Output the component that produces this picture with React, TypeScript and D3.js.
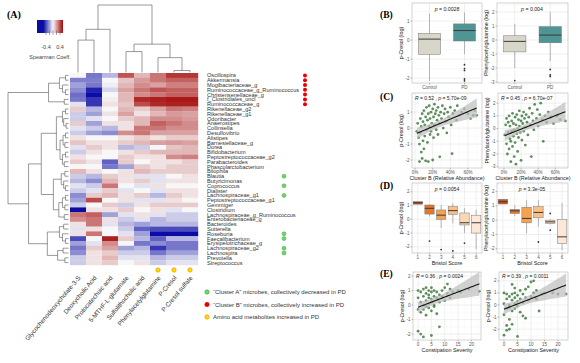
import React from 'react';
import * as d3 from 'd3';

type Tree = number | [number, Tree, Tree];
type Box = { q1: number; med: number; q3: number; lo: number; hi: number; out: number[] };

// ---- panel A data ----
const taxa = [
  'Oscillospira', 'Akkermansia', 'Mogibacteriaceae_g', 'Ruminococcaceae_g_Ruminococcus', 'Christensenellaceae_g',
  'f_Clostridiales_uncl', 'Ruminococcaceae_g', 'Rikenellaceae_g2', 'Rikenellaceae_g1', 'Odoribacter',
  'Anaerostipes', 'Collinsella', 'Desulfovibrio', 'Alistipes', 'Barnesiellaceae_g',
  'Dorea', 'Bifidobacterium', 'Peptostreptococcaceae_g2', 'Parabacteroides', 'Phascolarctobacterium',
  'Bilophila', 'Blautia', 'Butyricimonas', 'Coprococcus', 'Dialister',
  'Lachnospiraceae_g1', 'Peptostreptococcaceae_g1', 'Gemmiger', 'Clostridium', 'Lachnospiraceae_g_Ruminococcus',
  'Enterobacteriaceae_g', 'Bacteroides', 'Sutterella', 'Roseburia', 'Faecalibacterium',
  'Erysipelotrichaceae_g', 'Lachnospiraceae_g2', 'Lachnospira', 'Prevotella', 'Streptococcus',
];
const metabolites = [
  'Glycochenodeoxycholate-3-S', 'Deoxycholic Acid', 'Protocatechuic acid', '5-MTHF-L-glutamate',
  'Sulfolithocholic acid', 'Phenylacetylglutamine', 'P-Cresol', 'P-Cresol sulfate',
];
const spearman: number[][] = [
  [0.0, -0.3, -0.15, 0.38, 0.15, 0.3, 0.45, 0.45],
  [-0.28, -0.28, 0.0, 0.12, 0.22, 0.3, 0.35, 0.35],
  [-0.2, -0.3, -0.02, 0.15, 0.25, 0.2, 0.28, 0.28],
  [-0.25, -0.5, -0.08, 0.2, 0.3, 0.38, 0.35, 0.35],
  [-0.32, -0.6, 0.0, 0.15, 0.25, 0.3, 0.35, 0.35],
  [-0.3, -0.45, 0.02, 0.15, 0.48, 0.5, 0.52, 0.52],
  [-0.05, -0.45, 0.05, 0.12, 0.4, 0.48, 0.5, 0.5],
  [0.1, -0.15, 0.0, 0.15, 0.1, 0.2, 0.3, 0.28],
  [-0.1, -0.2, 0.05, 0.2, 0.05, 0.15, 0.22, 0.2],
  [-0.1, -0.05, 0.0, 0.1, 0.15, 0.25, 0.25, 0.22],
  [0.1, -0.2, 0.05, 0.05, 0.15, 0.35, 0.3, 0.25],
  [-0.05, -0.1, -0.15, 0.05, 0.3, 0.3, 0.25, 0.25],
  [-0.1, -0.2, -0.25, 0.25, 0.3, 0.2, 0.2, 0.2],
  [0.05, 0.0, 0.0, 0.05, 0.1, 0.05, 0.1, 0.1],
  [0.12, 0.05, 0.05, 0.1, 0.15, 0.2, 0.22, 0.2],
  [-0.05, 0.1, 0.05, -0.15, -0.1, 0.0, 0.12, 0.15],
  [-0.1, 0.05, 0.0, 0.05, 0.1, 0.15, 0.15, 0.15],
  [0.05, 0.0, 0.0, 0.1, 0.05, 0.05, 0.25, 0.28],
  [0.1, 0.05, -0.35, 0.1, 0.0, 0.05, 0.05, 0.1],
  [0.0, 0.0, -0.3, -0.2, 0.1, 0.05, 0.1, 0.1],
  [0.15, 0.05, 0.0, 0.05, 0.15, 0.1, 0.1, 0.1],
  [-0.1, -0.15, 0.1, 0.05, -0.05, -0.05, 0.0, 0.05],
  [-0.15, -0.25, 0.15, 0.05, 0.1, -0.05, 0.05, 0.05],
  [-0.05, -0.1, 0.3, 0.0, -0.05, 0.05, 0.0, 0.0],
  [-0.1, -0.05, 0.1, -0.05, 0.0, -0.05, 0.05, 0.05],
  [-0.25, 0.1, 0.15, 0.05, 0.1, -0.15, 0.1, 0.05],
  [-0.2, 0.4, 0.0, 0.05, -0.05, -0.05, 0.05, 0.0],
  [-0.1, 0.0, 0.1, -0.1, 0.05, 0.1, 0.1, 0.1],
  [-0.55, 0.05, 0.05, 0.1, 0.0, 0.05, -0.05, 0.0],
  [0.3, 0.35, -0.2, -0.05, 0.05, -0.05, -0.1, -0.1],
  [0.25, 0.3, 0.05, -0.1, -0.05, -0.15, -0.1, -0.1],
  [0.05, 0.3, -0.05, -0.15, -0.2, -0.15, -0.15, -0.15],
  [-0.05, 0.05, 0.0, -0.1, -0.35, -0.4, -0.4, -0.4],
  [0.05, 0.3, 0.0, -0.05, -0.2, -0.6, -0.6, -0.6],
  [-0.4, 0.0, 0.5, 0.1, -0.15, -0.35, -0.15, -0.15],
  [-0.2, -0.05, 0.25, 0.0, -0.3, -0.25, -0.3, -0.3],
  [-0.3, 0.1, 0.2, -0.2, -0.15, -0.45, -0.3, -0.3],
  [-0.25, 0.05, 0.1, -0.1, -0.1, -0.3, -0.2, -0.2],
  [-0.1, 0.05, 0.15, -0.05, -0.05, -0.15, -0.1, -0.1],
  [-0.1, 0.05, 0.1, 0.0, 0.05, -0.1, -0.05, -0.05],
];
const clusterA = ['Blautia', 'Coprococcus', 'Lachnospiraceae_g1', 'Roseburia', 'Faecalibacterium', 'Lachnospiraceae_g2', 'Lachnospira'];
const clusterB = ['Oscillospira', 'Akkermansia', 'Mogibacteriaceae_g', 'Ruminococcaceae_g_Ruminococcus', 'Christensenellaceae_g', 'f_Clostridiales_uncl', 'Ruminococcaceae_g'];
const aminoAcid = ['Phenylacetylglutamine', 'P-Cresol', 'P-Cresol sulfate'];
const legendText = [
  '\u201CCluster A\u201D microbes, collectively decreased in PD',
  '\u201CCluster B\u201D microbes, collectively increased in PD',
  'Amino acid metabolites increased in PD',
];
const legendTicks = [-0.4, -0.2, 0, 0.2, 0.4];

// dendrograms: [height, left, right]; leaves are row / column indices
const rowTree: Tree = [1,
  [0.33, [0.15, [0.05, 0, 1], [0.1, 2, [0.05, 3, 4]]], [0.07, 5, 6]],
  [0.66,
    [0.45,
      [0.2, [0.1, [0.05, 7, 8], [0.08, 9, [0.04, 10, 11]]], [0.14, [0.09, [0.05, 12, 13], [0.06, 14, 15]], [0.1, [0.05, 16, 17], [0.07, 18, 19]]]],
      [0.25, [0.12, [0.06, 20, 21], [0.08, 22, [0.05, 23, 24]]], [0.16, [0.1, [0.05, 25, 26], [0.06, 27, 28]], [0.07, 29, 30]]]],
    [0.35, [0.15, [0.08, 31, 32], [0.1, 33, [0.05, 34, 35]]], [0.18, [0.09, 36, 37], [0.06, 38, 39]]]]];
const colTree: Tree = [1, [0.64, [0.48, 0, 1], 2], [0.42, [0.31, 3, 4], [0.22, 5, [0.03, 6, 7]]]];

// ---- panel B ----
const groups = ['Control', 'PD'];
const cresolByGroup: Box[] = [
  { q1: -0.75, med: 0.05, q3: 0.35, lo: -2.15, hi: 1.4, out: [] },
  { q1: -0.05, med: 0.5, q3: 0.85, lo: -0.75, hi: 1.45, out: [-1.3, -1.5, -1.6, -2.05, -2.15] },
];
const pagByGroup: Box[] = [
  { q1: -0.85, med: -0.1, q3: 0.3, lo: -2.0, hi: 1.15, out: [-2.9] },
  { q1: -0.2, med: 0.35, q3: 0.95, lo: -1.5, hi: 2.0, out: [-2.1, -2.5, -2.6] },
];

// ---- panel C: [Cluster B %, log value] ----
const cresolVsB: [number, number][] = [
  [2, -0.2], [3, 0.3], [4, -0.6], [5, -1.0], [5, -2.1], [6, 0.6], [6, -0.3], [7, -1.5], [7, 0.1], [8, -1.9],
  [8, 0.9], [9, -0.8], [9, 0.4], [10, -1.3], [10, 1.1], [11, 0.2], [11, -0.5], [12, -2.05], [12, 0.7], [13, -0.1],
  [13, 1.3], [14, 0.5], [14, -0.9], [15, -2.1], [15, 0.9], [16, 0.1], [16, 1.4], [17, -0.4], [17, 0.6], [18, 1.0],
  [18, -0.2], [19, 0.3], [20, -2.0], [20, 1.2], [21, 0.7], [21, -0.6], [22, 0.2], [22, 1.5], [23, 0.9], [24, -0.1],
  [24, 1.1], [25, 0.5], [26, 1.3], [26, -0.4], [27, 0.8], [28, -1.8], [28, 0.3], [29, 1.0], [30, 0.6], [31, 1.4],
  [32, 0.0], [33, 0.9], [34, 1.2], [35, 0.4], [36, -0.3], [37, 1.0], [38, 0.7], [40, 1.3], [41, 0.2], [42, -1.6],
  [43, 0.9], [45, 1.1], [47, 0.5], [48, 1.4], [50, 0.8], [53, 1.0], [56, 1.2], [60, 0.9], [63, 0.6], [66, 0.8],
  [68, 1.1], [70, 0.8],
];
const pagVsB: [number, number][] = [
  [1, -0.5], [2, 0.3], [3, -1.2], [3, 0.8], [4, -2.0], [5, -0.3], [5, 0.5], [6, -1.6], [6, 1.0], [7, -0.8],
  [7, 0.2], [8, -2.6], [8, -1.0], [9, 0.6], [9, -0.2], [10, -1.4], [10, 1.2], [11, -0.6], [11, 0.4], [12, -2.2],
  [12, -0.1], [13, 0.9], [13, -1.1], [14, 0.3], [14, -2.8], [15, -0.4], [15, 1.1], [16, 0.0], [16, -1.8], [17, 0.7],
  [17, -0.7], [18, 0.2], [18, 1.4], [19, -0.3], [20, 0.6], [20, -2.5], [21, 1.0], [21, -0.9], [22, 0.4], [23, -0.2],
  [23, 1.3], [24, 0.8], [25, -1.3], [25, 0.1], [26, 1.1], [27, 0.5], [28, -0.5], [29, 0.9], [30, 1.6], [31, 0.3],
  [32, -2.2], [33, 1.2], [34, 0.6], [35, -0.1], [36, 1.9], [38, 0.8], [39, 1.5], [40, 0.2], [42, 1.1], [43, 2.0],
  [45, 0.7], [46, -1.0], [48, 1.0], [50, 0.5], [52, 1.3], [55, 0.9], [58, 0.4], [62, 1.0], [66, 0.7], [72, 0.6],
];

// ---- panel D ----
const bristol = ['1', '2', '3', '4', '5', '6'];
const cresolByBristol: Box[] = [
  { q1: 1.1, med: 1.2, q3: 1.28, lo: 1.1, hi: 1.28, out: [] },
  { q1: 0.38, med: 0.8, q3: 1.04, lo: 0.2, hi: 1.1, out: [-1.58] },
  { q1: 0.0, med: 0.3, q3: 0.68, lo: -0.63, hi: 1.04, out: [-2.2] },
  { q1: 0.36, med: 0.63, q3: 0.92, lo: -0.3, hi: 1.18, out: [-2.3] },
  { q1: -0.41, med: -0.25, q3: 0.46, lo: -1.0, hi: 0.8, out: [-1.73] },
  { q1: -1.0, med: -0.25, q3: 0.3, lo: -2.2, hi: 0.7, out: [] },
];
const pagByBristol: Box[] = [
  { q1: 1.13, med: 1.29, q3: 1.46, lo: 1.13, hi: 1.46, out: [] },
  { q1: 0.47, med: 0.65, q3: 0.75, lo: 0.28, hi: 1.05, out: [] },
  { q1: -0.19, med: 0.12, q3: 0.9, lo: -0.92, hi: 1.4, out: [] },
  { q1: 0.16, med: 0.54, q3: 0.94, lo: -0.47, hi: 1.4, out: [-1.53] },
  { q1: -0.24, med: -0.12, q3: 0.0, lo: -0.3, hi: 0.05, out: [0.47, -0.7] },
  { q1: -1.64, med: -1.17, q3: 0.05, lo: -2.1, hi: 1.2, out: [] },
];

// ---- panel E: [constipation severity, log value] ----
const cresolVsConst: [number, number][] = [
  [0, -0.3], [0, 0.5], [0, -1.8], [0, 1.0], [1, 0.2], [1, -0.5], [1, 0.9], [1, -2.0], [2, 0.0], [2, 0.6],
  [2, 1.1], [2, -0.3], [2, -2.2], [3, 0.3], [3, -0.1], [3, 0.8], [3, 1.2], [3, -0.7], [4, 0.1], [4, 0.5],
  [4, 1.0], [4, -0.2], [4, 0.7], [5, 0.4], [5, -0.4], [5, 0.9], [5, 0.2], [5, 1.2], [5, -2.1], [6, 0.0],
  [6, 0.6], [6, 1.0], [6, -0.1], [7, 0.5], [7, -0.6], [7, 0.9], [8, 0.2], [8, -1.5], [8, 0.7], [9, 0.6],
  [9, 1.0], [10, 0.3], [10, 1.2], [11, 1.45], [11, 0.8], [12, 0.5], [12, 1.1], [13, 0.9], [15, 1.0], [16, 0.9],
  [19, 1.1], [23, 0.95],
];
const cresol2VsConst: [number, number][] = [
  [0, -0.8], [0, 0.1], [0, 1.0], [0, -2.5], [1, -0.3], [1, 0.5], [1, -1.7], [1, 0.9], [1, -2.1], [2, 0.0],
  [2, -1.2], [2, 0.7], [2, -2.0], [2, -0.2], [3, 0.4], [3, -0.5], [3, 1.7], [3, -1.6], [3, 0.9], [4, 0.1],
  [4, 1.0], [4, -0.3], [4, 0.6], [4, 1.4], [5, 0.3], [5, -2.6], [5, 0.8], [5, -0.1], [6, 0.5], [6, 1.2],
  [6, -0.6], [7, 0.2], [7, 0.9], [7, -0.9], [8, 0.6], [8, 1.3], [8, -1.1], [9, 0.4], [9, 1.5], [10, 1.9],
  [10, 0.7], [11, 2.0], [11, 1.0], [12, 0.5], [12, 1.2], [13, -0.5], [14, 0.9], [15, 1.0], [18, 1.0], [20, 0.9],
  [23, 0.9],
];

const FONT = 'Liberation Sans, Arial, sans-serif';
const bristolFill = ['#c6541c', '#e5772a', '#f4a251', '#f8bf87', '#fbd8b5', '#fde8d7'];

function dendro(t: Tree, segs: number[][]): [number, number] {
  if (typeof t === 'number') return [t + 0.5, 0];
  const [h, a, b] = t;
  const [pa, ha] = dendro(a, segs);
  const [pb, hb] = dendro(b, segs);
  segs.push([pa, ha, pa, h], [pa, h, pb, h], [pb, h, pb, hb]);
  return [(pa + pb) / 2, h];
}

function PanelA() {
  const rows = d3.scaleBand<string>().domain(taxa).range([73, 265]);
  const cols = d3.scaleBand<string>().domain(metabolites).range([70, 198]);
  const color = d3.scaleLinear<string>().domain([-0.55, 0, 0.55]).range(['#0b0ba6', '#f7f7f7', '#a60b0b']).clamp(true);
  const rowIdx = d3.scaleLinear().domain([0, taxa.length]).range([73, 265]);
  const colIdx = d3.scaleLinear().domain([0, metabolites.length]).range([70, 198]);
  const rowH = d3.scaleLinear().domain([0, 1]).range([68.5, 8]);
  const colH = d3.scaleLinear().domain([0, 1]).range([72.5, 5]);
  const rSegs: number[][] = [];
  dendro(rowTree, rSegs);
  const cSegs: number[][] = [];
  dendro(colTree, cSegs);
  const lg = d3.scaleLinear().domain([-0.4, 0.4]).range([46, 60]);
  const stops = d3.range(0, 1.001, 0.05);
  const rc = (n: string) => rows(n)! + rows.bandwidth() / 2;
  const cc = (n: string) => cols(n)! + cols.bandwidth() / 2;
  return (
    <g>
      <text x={7} y={18} fontFamily="Liberation Serif" fontWeight="bold" fontSize={10}>(A)</text>
      <defs>
        <linearGradient id="spg" x1="0" x2="1" y1="0" y2="0">
          {stops.map(s => <stop key={s} offset={s} stopColor={color(lg.invert(37 + 26 * s))} />)}
        </linearGradient>
      </defs>
      <rect x={37} y={20} width={26} height={13} fill="url(#spg)" />
      {legendTicks.map(t => <line key={t} x1={lg(t)} x2={lg(t)} y1={30.5} y2={35} stroke="#555" strokeWidth={0.5} />)}
      {[-0.4, 0.4].map(t => <text key={t} x={lg(t)} y={49} fontSize={5.5} textAnchor="middle" fill="#444" fontFamily={FONT}>{t}</text>)}
      <text x={50} y={59} fontSize={5.5} textAnchor="middle" fill="#444" fontFamily={FONT}>Spearman Coeff.</text>

      {rSegs.map((s, i) => <line key={'r' + i} x1={rowH(s[1])} y1={rowIdx(s[0])} x2={rowH(s[3])} y2={rowIdx(s[2])} stroke="#555" strokeWidth={0.6} />)}
      {cSegs.map((s, i) => <line key={'c' + i} x1={colIdx(s[0])} y1={colH(s[1])} x2={colIdx(s[2])} y2={colH(s[3])} stroke="#555" strokeWidth={0.6} />)}

      {taxa.map((t, i) => metabolites.map((m, j) => (
        <rect key={t + m} x={cols(m)} y={rows(t)} width={cols.bandwidth() + 0.2} height={rows.bandwidth() + 0.2} fill={color(spearman[i][j])} />
      )))}
      {taxa.map(t => <text key={t} x={207} y={rc(t)} dy="0.35em" fontSize={5.6} fill="#333" fontFamily={FONT}>{t}</text>)}
      {clusterB.map(t => <circle key={t} cx={305} cy={rc(t)} r={2} fill="#e80000" />)}
      {clusterA.map(t => <circle key={t} cx={284} cy={rc(t)} r={2} fill="#6fd46f" stroke="#3caa3c" strokeWidth={0.5} />)}
      {aminoAcid.map(m => <circle key={m} cx={cc(m)} cy={270} r={2.2} fill="#ffd800" stroke="#e39a00" strokeWidth={0.6} />)}
      {metabolites.map(m => (
        <text key={m} transform={`translate(${cc(m) + 3},278) rotate(-50)`} textAnchor="end" fontSize={6.3} fill="#333" fontFamily={FONT}>{m}</text>
      ))}
      {legendText.map((l, i) => (
        <g key={l}>
          <circle cx={207} cy={292 + i * 12.5} r={2.2} fill={['#6fd46f', '#e80000', '#ffd800'][i]} stroke={['#3caa3c', '#e80000', '#e39a00'][i]} strokeWidth={0.6} />
          <text x={213} y={292 + i * 12.5} dy="0.35em" fontSize={6} fill="#333" fontFamily={FONT}>{l}</text>
        </g>
      ))}
    </g>
  );
}

let clipN = 0;
function Frame({ x, y, yTicks, xTicks, fmt, yLabel, xLabel, children }: any) {
  const id = 'clip' + clipN++;
  const [x0, x1] = x.range();
  const [yb, yt] = y.range();
  const band = typeof x.bandwidth === 'function';
  const px = (v: any) => (band ? x(v) + x.bandwidth() / 2 : x(v));
  const step = yTicks[1] - yTicks[0];
  const [d0, d1] = y.domain();
  const yMinor = d3.range(yTicks[0] - step / 2, d1, step).filter((v: number) => v > d0);
  let xMinor: number[] = [];
  if (!band) {
    const s = xTicks[1] - xTicks[0];
    const [e0, e1] = x.domain();
    xMinor = d3.range(xTicks[0] - s / 2, e1, s).filter((v: number) => v > e0);
  }
  const f = fmt || String;
  return (
    <g fontFamily={FONT}>
      <defs><clipPath id={id}><rect x={x0} y={yt} width={x1 - x0} height={yb - yt} /></clipPath></defs>
      <rect x={x0} y={yt} width={x1 - x0} height={yb - yt} fill="#fff" />
      {yMinor.map((v: number) => <line key={'ym' + v} x1={x0} x2={x1} y1={y(v)} y2={y(v)} stroke="#f2f2f2" strokeWidth={0.4} />)}
      {xMinor.map((v: number) => <line key={'xm' + v} y1={yt} y2={yb} x1={x(v)} x2={x(v)} stroke="#f2f2f2" strokeWidth={0.4} />)}
      {yTicks.map((v: number) => <line key={'y' + v} x1={x0} x2={x1} y1={y(v)} y2={y(v)} stroke="#e4e4e4" strokeWidth={0.6} />)}
      {xTicks.map((v: any) => <line key={'x' + v} y1={yt} y2={yb} x1={px(v)} x2={px(v)} stroke="#e4e4e4" strokeWidth={0.6} />)}
      <g clipPath={`url(#${id})`}>{children}</g>
      <rect x={x0} y={yt} width={x1 - x0} height={yb - yt} fill="none" stroke="#b5b5b5" strokeWidth={0.6} />
      {yTicks.map((v: number) => (
        <g key={'yt' + v}>
          <line x1={x0 - 1.5} x2={x0} y1={y(v)} y2={y(v)} stroke="#555" strokeWidth={0.4} />
          <text x={x0 - 2.5} y={y(v)} dy="0.35em" textAnchor="end" fontSize={4.5} fill="#555">{v}</text>
        </g>
      ))}
      {xTicks.map((v: any) => (
        <g key={'xt' + v}>
          <line y1={yb} y2={yb + 1.5} x1={px(v)} x2={px(v)} stroke="#555" strokeWidth={0.4} />
          <text x={px(v)} y={yb + 6} textAnchor="middle" fontSize={4.5} fill="#555">{f(v)}</text>
        </g>
      ))}
      <text transform={`translate(${x0 - 9},${(yt + yb) / 2}) rotate(-90)`} textAnchor="middle" fontSize={5.4} fill="#222">{yLabel}</text>
      {xLabel && <text x={(x0 + x1) / 2} y={yb + 12} textAnchor="middle" fontSize={5.4} fill="#222">{xLabel}</text>}
    </g>
  );
}

function Boxes({ x, y, boxes, fills }: any) {
  return boxes.map((b: Box, i: number) => {
    const k = x.domain()[i];
    const cx = x(k) + x.bandwidth() / 2;
    const w = x.bandwidth();
    return (
      <g key={k}>
        <line x1={cx} x2={cx} y1={y(b.hi)} y2={y(b.q3)} stroke="#777" strokeWidth={0.5} />
        <line x1={cx} x2={cx} y1={y(b.q1)} y2={y(b.lo)} stroke="#777" strokeWidth={0.5} />
        <rect x={x(k)} y={y(b.q3)} width={w} height={y(b.q1) - y(b.q3)} fill={fills[i]} stroke="#777" strokeWidth={0.5} />
        <line x1={x(k)} x2={x(k) + w} y1={y(b.med)} y2={y(b.med)} stroke="#3a3a3a" strokeWidth={1} />
        {b.out.map((o, j) => <circle key={j} cx={cx} cy={y(o)} r={0.9} fill="#333" />)}
      </g>
    );
  });
}

function PText({ x, y, children }: any) {
  return <text x={x} y={y} fontSize={5.2} fill="#222" fontFamily={FONT} textAnchor="middle">{children}</text>;
}

function fitLine(pts: [number, number][]) {
  const n = pts.length;
  const mx = d3.mean(pts, d => d[0])!;
  const my = d3.mean(pts, d => d[1])!;
  const sxx = d3.sum(pts, d => (d[0] - mx) ** 2);
  const sxy = d3.sum(pts, d => (d[0] - mx) * (d[1] - my));
  const b = sxy / sxx;
  const a = my - b * mx;
  const s = Math.sqrt(d3.sum(pts, d => (d[1] - a - b * d[0]) ** 2) / (n - 2));
  const [lo, hi] = d3.extent(pts, d => d[0]) as [number, number];
  return d3.range(0, 41).map(i => {
    const xv = lo + ((hi - lo) * i) / 40;
    return { x: xv, y: a + b * xv, se: 1.99 * s * Math.sqrt(1 / n + (xv - mx) ** 2 / sxx) };
  });
}

function Scatter({ x, y, pts }: any) {
  const f = fitLine(pts);
  const area = d3.area<any>().x(d => x(d.x)).y0(d => y(d.y - d.se)).y1(d => y(d.y + d.se));
  const line = d3.line<any>().x(d => x(d.x)).y(d => y(d.y));
  return (
    <g>
      {pts.map((p: number[], i: number) => <circle key={i} cx={x(p[0])} cy={y(p[1])} r={1.4} fill="#3f7b3f" fillOpacity={0.85} />)}
      <path d={area(f)!} fill="#bdbdbd" fillOpacity={0.7} />
      <path d={line(f)!} fill="none" stroke="#111" strokeWidth={1.1} />
    </g>
  );
}

function Stat({ x, y, r, p }: any) {
  return (
    <text x={x} y={y} fontSize={5} fill="#222" fontFamily={FONT}>
      <tspan fontStyle="italic">R</tspan> = {r} , <tspan fontStyle="italic">p</tspan> = {p}
    </text>
  );
}

function PanelLabel({ y, t }: any) {
  return <text x={380} y={y} fontFamily="Liberation Serif" fontWeight="bold" fontSize={9.5}>{t}</text>;
}

function Right() {
  const L: [number, number] = [412, 482];
  const R: [number, number] = [497, 568];
  const gx = (r: number[]) => d3.scaleBand<string>().domain(groups).range(r as any).paddingInner(0.37).paddingOuter(0.185);
  const bx = (r: number[]) => d3.scaleBand<string>().domain(bristol).range(r as any).paddingInner(0.2).paddingOuter(0.1);
  const pct = (d: number) => d + '%';

  const bY1 = d3.scaleLinear().domain([-2.26, 1.95]).range([83, 3]);
  const bY2 = d3.scaleLinear().domain([-3.07, 2.64]).range([83, 3]);
  const cX1 = d3.scaleLinear().domain([-3.5, 76]).range(L);
  const cX2 = d3.scaleLinear().domain([-7, 75]).range([498, 568]);
  const cY1 = d3.scaleLinear().domain([-2.5, 2.2]).range([168, 93]);
  const cY2 = d3.scaleLinear().domain([-3.1, 2.8]).range([168, 93]);
  const dY1 = d3.scaleLinear().domain([-2.45, 2.64]).range([253, 183]);
  const dY2 = d3.scaleLinear().domain([-2.3, 2.6]).range([253, 183]);
  const eX1 = d3.scaleLinear().domain([-1.9, 23.6]).range([413, 481]);
  const eX2 = d3.scaleLinear().domain([-1.85, 23.7]).range([499, 568]);
  const eY1 = d3.scaleLinear().domain([-2.41, 2.28]).range([340, 272]);
  const eY2 = d3.scaleLinear().domain([-2.9, 2.73]).range([340, 272]);

  const gL = gx(L), gR = gx(R), bL = bx(L), bR = bx(R);
  const bFill = ['#d8d6c8', '#4e9594'];
  return (
    <g>
      <PanelLabel y={18} t="(B)" />
      <PanelLabel y={100} t="(C)" />
      <PanelLabel y={189} t="(D)" />
      <PanelLabel y={277} t="(E)" />

      <Frame x={gL} y={bY1} yTicks={[-2, -1, 0, 1]} xTicks={groups} yLabel="p-Cresol (log)">
        <Boxes x={gL} y={bY1} boxes={cresolByGroup} fills={bFill} />
      </Frame>
      <PText x={447} y={11}><tspan fontStyle="italic">p</tspan> = 0.0028</PText>
      <Frame x={gR} y={bY2} yTicks={[-3, -2, -1, 0, 1, 2]} xTicks={groups} yLabel="Phenylacetylglutamine (log)">
        <Boxes x={gR} y={bY2} boxes={pagByGroup} fills={bFill} />
      </Frame>
      <PText x={532} y={11}><tspan fontStyle="italic">p</tspan> = 0.004</PText>

      <Frame x={cX1} y={cY1} yTicks={[-2, -1, 0, 1]} xTicks={[0, 20, 40, 60]} fmt={pct} yLabel="p-Cresol (log)" xLabel="Cluster B (Relative Abundance)">
        <Scatter x={cX1} y={cY1} pts={cresolVsB} />
      </Frame>
      <Stat x={415} y={100} r="0.52" p="5.70e-09" />
      <Frame x={cX2} y={cY2} yTicks={[-3, -2, -1, 0, 1, 2]} xTicks={[0, 20, 40, 60]} fmt={pct} yLabel="Phenylacetylglutamine (log)" xLabel="Cluster B (Relative Abundance)">
        <Scatter x={cX2} y={cY2} pts={pagVsB} />
      </Frame>
      <Stat x={501} y={100} r="0.45" p="6.70e-07" />

      <Frame x={bL} y={dY1} yTicks={[-2, -1, 0, 1, 2]} xTicks={bristol} yLabel="p-Cresol (log)" xLabel="Bristol Score">
        <Boxes x={bL} y={dY1} boxes={cresolByBristol} fills={bristolFill} />
      </Frame>
      <PText x={447} y={191}><tspan fontStyle="italic">p</tspan> = 0.0054</PText>
      <Frame x={bR} y={dY2} yTicks={[-2, -1, 0, 1, 2]} xTicks={bristol} yLabel="Phenylacetylglutamine (log)" xLabel="Bristol Score">
        <Boxes x={bR} y={dY2} boxes={pagByBristol} fills={bristolFill} />
      </Frame>
      <PText x={532} y={191}><tspan fontStyle="italic">p</tspan> = 3.3e-05</PText>

      <Frame x={eX1} y={eY1} yTicks={[-2, -1, 0, 1, 2]} xTicks={[0, 5, 10, 15, 20]} yLabel="p-Cresol (log)" xLabel="Constipation Severity">
        <Scatter x={eX1} y={eY1} pts={cresolVsConst} />
      </Frame>
      <Stat x={416} y={278} r="0.36" p="0.0024" />
      <Frame x={eX2} y={eY2} yTicks={[-2, -1, 0, 1, 2]} xTicks={[0, 5, 10, 15, 20]} yLabel="p-Cresol (log)" xLabel="Constipation Severity">
        <Scatter x={eX2} y={eY2} pts={cresol2VsConst} />
      </Frame>
      <Stat x={502} y={278} r="0.39" p="0.0011" />
    </g>
  );
}

export default function App() {
  clipN = 0;
  return (
    <svg width={580} height={363} style={{ position: 'absolute', left: 0, top: 0, background: '#fff' }}>
      <rect width={580} height={363} fill="#fff" />
      <PanelA />
      <Right />
    </svg>
  );
}
